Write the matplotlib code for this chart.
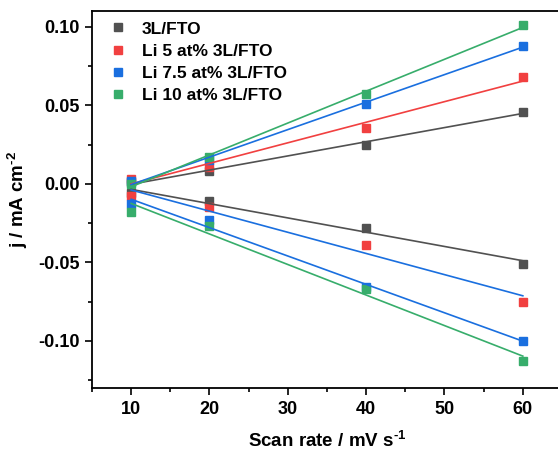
import numpy as np
import matplotlib
matplotlib.use("Agg")
import matplotlib.pyplot as plt
from matplotlib.ticker import MultipleLocator

plt.rcParams['font.family'] = ['Liberation Sans', 'DejaVu Sans']
plt.rcParams['font.weight'] = 'bold'
plt.rcParams['mathtext.fontset'] = 'custom'
plt.rcParams['mathtext.rm'] = 'Liberation Sans:bold'
plt.rcParams['mathtext.bf'] = 'Liberation Sans:bold'

scan_rate = [10, 20, 40, 60]

labels = ['3L/FTO', 'Li 5 at% 3L/FTO', 'Li 7.5 at% 3L/FTO', 'Li 10 at% 3L/FTO']
colors = ['#515151', '#F14040', '#1A6FDF', '#37AD6B']

# anodic (upper) and cathodic (lower) current densities
j_anodic = [
    [0.001, 0.008, 0.025, 0.046],
    [0.003, 0.011, 0.0355, 0.068],
    [0.0015, 0.015, 0.051, 0.088],
    [0.0, 0.017, 0.057, 0.101],
]
j_cathodic = [
    [-0.006, -0.011, -0.028, -0.051],
    [-0.008, -0.015, -0.039, -0.075],
    [-0.013, -0.023, -0.066, -0.100],
    [-0.018, -0.027, -0.067, -0.113],
]
# Origin drew the cathodic fit of the 5 at% sample in blue
cathodic_fit_colors = ['#515151', '#1A6FDF', '#1A6FDF', '#37AD6B']

fig = plt.figure(figsize=(5.58, 4.55), dpi=100)
ax = fig.add_axes([92/558, 1 - 388/455, (562 - 92)/558, (388 - 11)/455])

x = np.array(scan_rate)
for i in range(4):
    ax.plot(x, j_anodic[i], 's', color=colors[i], ms=6, label=labels[i])
    ax.plot(x, j_cathodic[i], 's', color=colors[i], ms=6)

for i in range(4):
    k, b = np.polyfit(x, j_anodic[i], 1)
    ax.plot(x[[0, -1]], k * x[[0, -1]] + b, '-', color=colors[i], lw=1.2)
    k, b = np.polyfit(x, j_cathodic[i], 1)
    ax.plot(x[[0, -1]], k * x[[0, -1]] + b, '-', color=cathodic_fit_colors[i], lw=1.2)

ax.set_xlim(5, 65)
ax.set_ylim(-0.13, 0.11)
ax.xaxis.set_major_locator(MultipleLocator(10))
ax.xaxis.set_minor_locator(MultipleLocator(5))
ax.yaxis.set_minor_locator(MultipleLocator(0.025))
ax.set_yticks([-0.10, -0.05, 0.00, 0.05, 0.10])
ax.set_yticklabels(['-0.10', '-0.05', '0.00', '0.05', '0.10'])

ax.tick_params(which='major', direction='out', length=5, width=1.2, labelsize=13, pad=4)
ax.tick_params(which='minor', direction='out', length=3, width=1.2)
for s in ax.spines.values():
    s.set_linewidth(1.3)

ax.set_xlabel(r'Scan rate / mV s$^{\text{-1}}$', fontsize=13.5, fontweight='bold', labelpad=9)
ax.set_ylabel(r'j / mA cm$^{\text{-2}}$', fontsize=13.5, fontweight='bold', labelpad=6)

ax.legend(loc='upper left', bbox_to_anchor=(0.01, 1.0), frameon=False, handlelength=1.2,
          handletextpad=0.8, labelspacing=0.4, borderaxespad=0.2,
          prop={'weight': 'bold', 'size': 12.5})

fig.savefig('out.png', dpi=100)
